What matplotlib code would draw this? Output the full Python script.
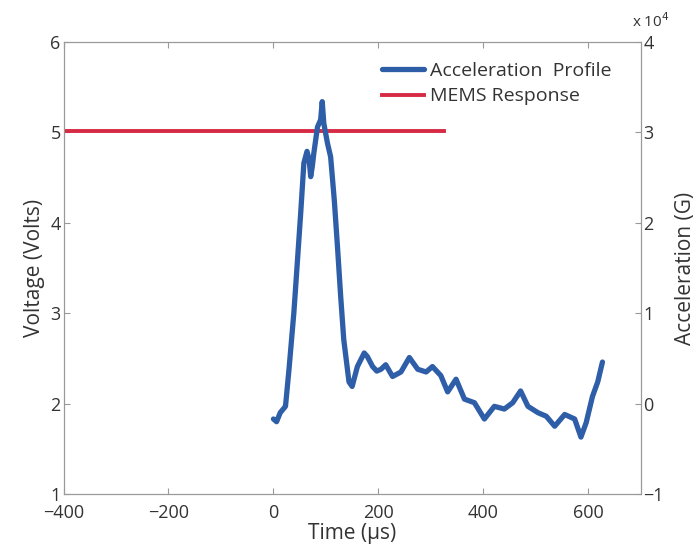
import matplotlib
matplotlib.use("Agg")
import matplotlib.pyplot as plt

# Data
accel_time = [0, 6, 13, 23, 30, 39, 46, 52, 58, 64, 68, 71, 74, 77, 84, 90, 93, 96, 103, 109,
              116, 122, 128, 134, 144, 150, 160, 173, 179, 189, 197, 205, 214, 227, 243, 259,
              275, 291, 303, 319, 332, 348, 364, 383, 402, 421, 440, 456, 471, 485, 504,
              520, 536, 555, 574, 586, 596, 608, 618, 627]
accel_g = [-0.17, -0.20, -0.10, -0.03, 0.40, 1.01, 1.60, 2.11, 2.66, 2.79, 2.70, 2.51, 2.62, 2.77,
           3.06, 3.14, 3.34, 3.10, 2.88, 2.73, 2.25, 1.74, 1.20, 0.71, 0.24, 0.19, 0.41, 0.56,
           0.52, 0.41, 0.36, 0.38, 0.43, 0.30, 0.35, 0.51, 0.38, 0.35, 0.41, 0.31, 0.13,
           0.27, 0.05, 0.01, -0.17, -0.03, -0.06, 0.01, 0.14, -0.03, -0.10, -0.14, -0.25,
           -0.12, -0.17, -0.37, -0.21, 0.08, 0.24, 0.46]
mems_time = [-400, -300, -200, -100, 0, 100, 200, 325]
mems_volt = [5.02, 5.02, 5.02, 5.02, 5.02, 5.02, 5.02, 5.02]

x_ticks = [-400, -200, 0, 200, 400, 600]
left_ticks = [1, 2, 3, 4, 5, 6]
right_ticks = [-1, 0, 1, 2, 3, 4]

plt.rcParams['font.family'] = ['Open Sans', 'DejaVu Sans']
txt = '#333333'
blue = '#2f5ea8'
red = '#d62a45'

fig = plt.figure(figsize=(6.98, 5.52), dpi=100)
ax = fig.add_axes([0.091, 0.105, 0.827, 0.819])
ax2 = ax.twinx()

l2, = ax.plot(mems_time, mems_volt, color=red, lw=2.8, label='MEMS Response', zorder=3)
l1, = ax2.plot(accel_time, accel_g, color=blue, lw=3.8, label='Acceleration  Profile',
               solid_joinstyle='round', solid_capstyle='round', zorder=4)

ax.set_xlim(-400, 700)
ax.set_ylim(1, 6)
ax2.set_ylim(-1, 4)
ax.set_xticks(x_ticks)
ax.set_xticklabels([str(v).replace('-', '\u2212') for v in x_ticks])
ax.set_yticks(left_ticks)
ax2.set_yticks(right_ticks)
ax2.set_yticklabels([str(v).replace('-', '\u2212') for v in right_ticks])

for a in (ax, ax2):
    for s in a.spines.values():
        s.set_color('#999999')
        s.set_linewidth(0.8)
        s.set_linestyle((0, (1, 1)))
    a.tick_params(direction='in', length=4, color='#999999', labelsize=13, labelcolor=txt, pad=2)
ax.tick_params(top=True, which='both')
ax.tick_params(axis='x', pad=7)

ax.set_xlabel('Time (\u00b5s)', fontsize=15, color=txt, labelpad=1)
ax.set_ylabel('Voltage (Volts)', fontsize=15, color=txt, labelpad=4)
ax2.set_ylabel('Acceleration (G)', fontsize=15, color=txt, labelpad=8)
ax2.text(0.985, 1.025, 'x 10$^4$', transform=ax2.transAxes, fontsize=11, color=txt,
         ha='left', va='bottom')

ax2.legend(handles=[l1, l2], loc='upper right', bbox_to_anchor=(0.98, 0.995), frameon=False,
           fontsize=14, handlelength=2.2, handletextpad=0.3, labelspacing=0.4,
           labelcolor=txt)

fig.savefig('out.png', dpi=100)
